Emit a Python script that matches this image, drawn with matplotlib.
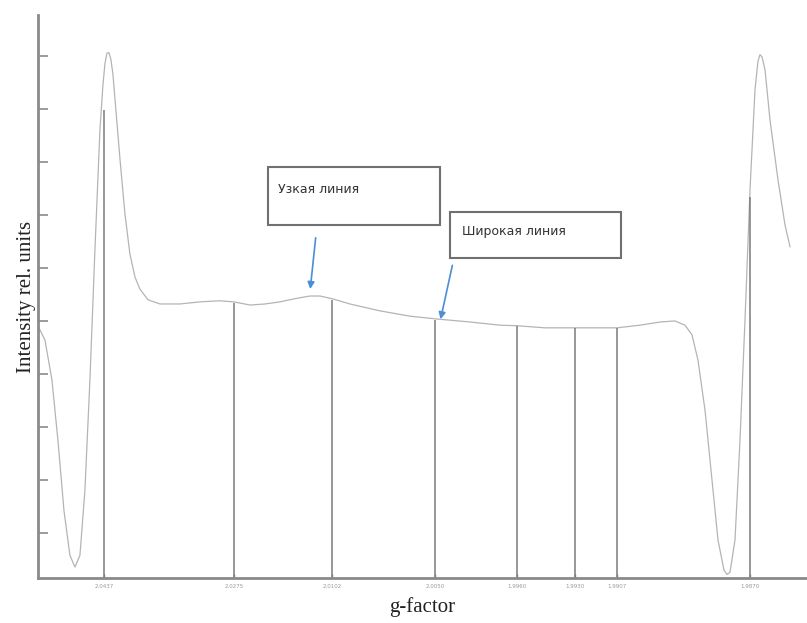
#!/usr/bin/env python3
# -*- coding: utf-8 -*-

import matplotlib
matplotlib.use('Agg')
import matplotlib.pyplot as plt

# EPR spectrum, field position (arb. units) vs. intensity (rel. units)
field = [0, 7, 14, 20, 26, 32, 37, 42, 47, 52, 57, 62, 65, 67, 69, 71, 73, 75,
         77, 82, 87, 92, 97, 102, 110, 122, 142, 162, 182, 196, 212, 227, 242,
         257, 272, 282, 294, 312, 342, 372, 397, 432, 462, 479, 507, 537, 562,
         579, 602, 622, 637, 647, 654, 660, 667, 674, 680, 686, 689, 692, 697,
         702, 707, 712, 717, 720, 722, 724, 727, 732, 740, 747, 752]
intensity = [4.91, 4.64, 3.89, 2.75, 1.43, 0.58, 0.36, 0.58, 1.81, 3.89, 6.34,
             8.60, 9.45, 9.85, 10.05, 10.06, 9.93, 9.65, 9.19, 8.06, 7.02,
             6.26, 5.83, 5.60, 5.40, 5.32, 5.32, 5.36, 5.38, 5.36, 5.30, 5.32,
             5.36, 5.42, 5.47, 5.47, 5.42, 5.32, 5.19, 5.09, 5.04, 4.98, 4.92,
             4.91, 4.87, 4.87, 4.87, 4.87, 4.92, 4.98, 5.00, 4.92, 4.74, 4.26,
             3.32, 2.00, 0.87, 0.30, 0.22, 0.26, 0.87, 2.75, 5.02, 7.47, 9.36,
             9.90, 10.02, 9.98, 9.74, 8.79, 7.66, 6.81, 6.40]

# marked line positions and g-factor labels
line_pos = [66, 196, 294, 397, 479, 537, 579, 712]
line_top = [8.98, 5.34, 5.40, 5.02, 4.91, 4.87, 4.87, 7.34]
g_labels = ['2.0437', '2.0275', '2.0102', '2.0050', '1.9960', '1.9930',
            '1.9907', '1.9870']

fig = plt.figure(figsize=(8.07, 6.23), dpi=100)
ax = fig.add_axes([0.047, 0.072, 0.953, 0.904])

ax.plot(field, intensity, color='#b4b4b4', lw=0.9)
ax.vlines(line_pos, 0.15, line_top, color='#7a7a7a', lw=1.1)

ax.set_xlim(0, 769)
ax.set_ylim(0.15, 10.77)

for side in ['top', 'right']:
    ax.spines[side].set_visible(False)
for side in ['left', 'bottom']:
    ax.spines[side].set_color('#8a8a8a')
    ax.spines[side].set_linewidth(2)

ax.set_yticks(range(1, 11))
ax.set_yticklabels([])
ax.tick_params(axis='y', direction='in', length=7, width=1.2, color='#8a8a8a')
ax.set_xticks(line_pos)
ax.set_xticklabels(g_labels, fontsize=4, color='#999999')
ax.tick_params(axis='x', direction='in', length=3, width=1, color='#8a8a8a', pad=4)

ax.set_ylabel('Intensity rel. units', family='Liberation Serif', fontsize=15,
              color='#222222', labelpad=-2)
ax.set_xlabel('g-factor', family='Liberation Serif', fontsize=15,
              color='#222222', labelpad=6)

arrow = dict(arrowstyle='-|>', color='#4a8fd6', lw=1.2, mutation_scale=10)
ax.annotate('', xy=(272, 5.55), xytext=(278, 6.62), arrowprops=arrow)
ax.annotate('', xy=(402, 4.98), xytext=(415, 6.1), arrowprops=arrow)

ax.add_patch(plt.Rectangle((230, 6.81), 172, 1.09, fc='white', ec='#707070',
                           lw=1.5, zorder=1))
ax.text(240, 7.47, 'Узкая линия', fontsize=9, color='#333333', va='center')
ax.add_patch(plt.Rectangle((412, 6.19), 171, 0.87, fc='white', ec='#707070',
                           lw=1.5, zorder=1))
ax.text(424, 6.68, 'Широкая линия', fontsize=9, color='#333333', va='center')

fig.savefig('out.png', dpi=100)
